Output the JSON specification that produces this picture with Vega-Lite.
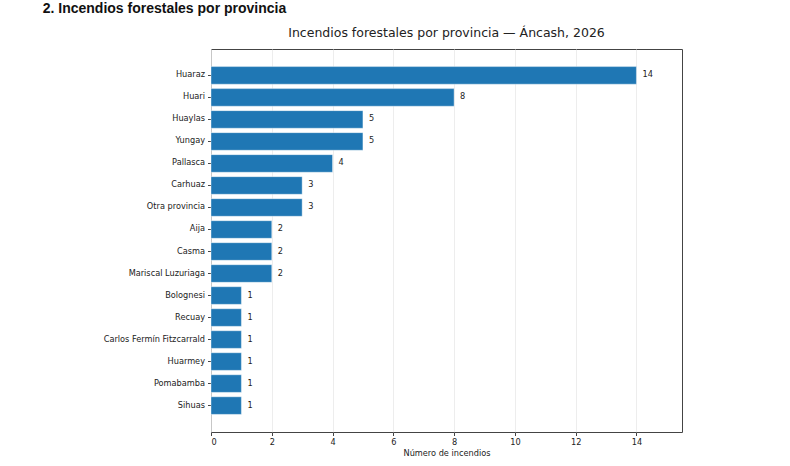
{
  "$schema": "https://vega.github.io/schema/vega-lite/v6.json",
  "background": "white",
  "padding": {"left": 42, "top": 2, "right": 10, "bottom": 5},
  "title": {
    "text": "2. Incendios forestales por provincia",
    "anchor": "start",
    "frame": "bounds",
    "dx": -60,
    "font": "Liberation Sans",
    "fontWeight": "bold",
    "fontSize": 14,
    "color": "#111111",
    "offset": 10
  },
  "data": {
    "values": [
      {"provincia": "Huaraz", "incendios": 14},
      {"provincia": "Huari", "incendios": 8},
      {"provincia": "Huaylas", "incendios": 5},
      {"provincia": "Yungay", "incendios": 5},
      {"provincia": "Pallasca", "incendios": 4},
      {"provincia": "Carhuaz", "incendios": 3},
      {"provincia": "Otra provincia", "incendios": 3},
      {"provincia": "Aija", "incendios": 2},
      {"provincia": "Casma", "incendios": 2},
      {"provincia": "Mariscal Luzuriaga", "incendios": 2},
      {"provincia": "Bolognesi", "incendios": 1},
      {"provincia": "Recuay", "incendios": 1},
      {"provincia": "Carlos Fermín Fitzcarrald", "incendios": 1},
      {"provincia": "Huarmey", "incendios": 1},
      {"provincia": "Pomabamba", "incendios": 1},
      {"provincia": "Sihuas", "incendios": 1}
    ]
  },
  "vconcat": [
    {
      "title": {
        "text": "Incendios forestales por provincia — Áncash, 2026",
        "font": "DejaVu Sans",
        "fontSize": 12.5,
        "fontWeight": "normal",
        "color": "#222222",
        "anchor": "middle",
        "offset": 10
      },
      "width": 471,
      "height": 383,
      "encoding": {
        "y": {
          "field": "provincia",
          "type": "nominal",
          "sort": null,
          "scale": {"paddingInner": 0.2, "paddingOuter": 0.8},
          "axis": {"title": null}
        },
        "x": {
          "field": "incendios",
          "type": "quantitative",
          "scale": {"domain": [0, 15.5], "nice": false},
          "axis": {"title": "Número de incendios", "values": [0, 2, 4, 6, 8, 10, 12, 14], "grid": true}
        }
      },
      "layer": [
        {
          "mark": {"type": "bar", "color": "#1f77b4", "stroke": "#ffffff", "strokeWidth": 0.8, "strokeOpacity": 0.5}
        },
        {
          "mark": {"type": "text", "align": "left", "dx": 6, "font": "DejaVu Sans", "fontSize": 8.2, "color": "#222222"},
          "encoding": {"text": {"field": "incendios", "type": "quantitative"}}
        }
      ]
    }
  ],
  "config": {
    "view": {"stroke": "#444444", "strokeWidth": 1},
    "axis": {
      "labelFont": "DejaVu Sans",
      "labelFontSize": 8.2,
      "labelColor": "#222222",
      "titleFont": "DejaVu Sans",
      "titleFontSize": 8.2,
      "titleFontWeight": "normal",
      "titleColor": "#222222",
      "tickColor": "#444444",
      "tickSize": 3.5,
      "labelPadding": 3,
      "domain": false,
      "gridColor": "#e8e8e8",
      "gridWidth": 0.8
    },
    "axisY": {"grid": false},
    "axisX": {"titlePadding": 4}
  }
}
